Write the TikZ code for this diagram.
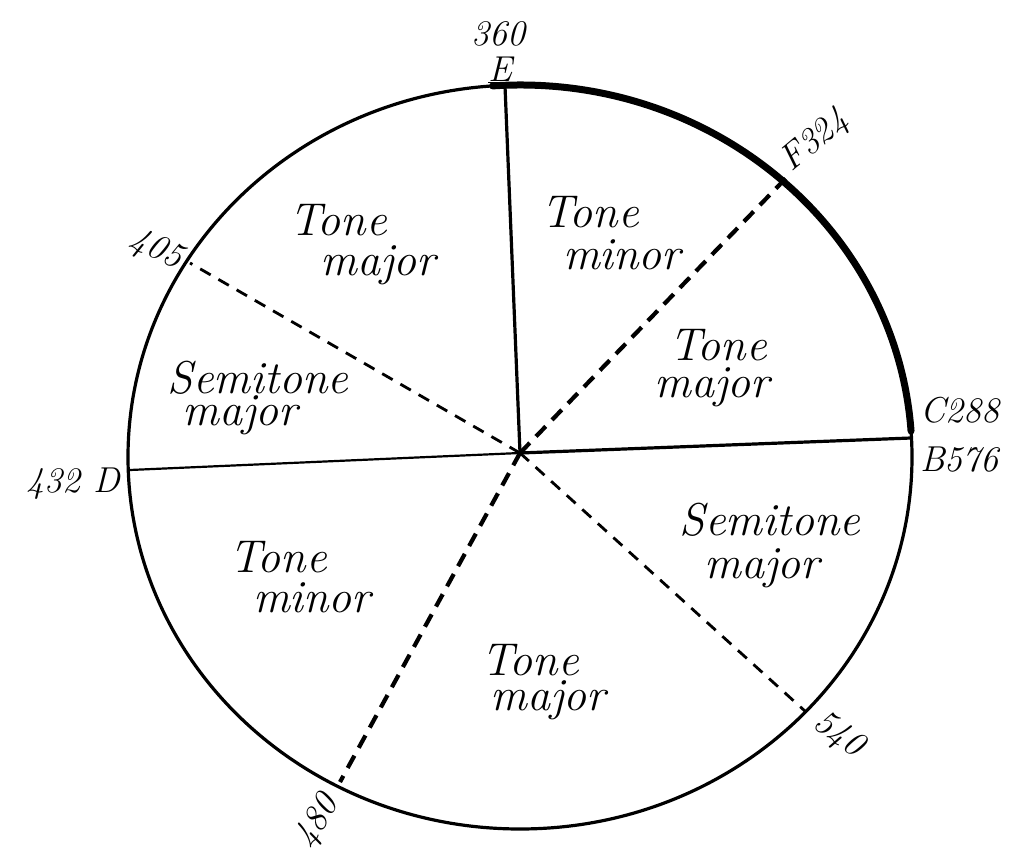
\documentclass[tikz,border=0pt]{standalone}
\usetikzlibrary{calc}
\begin{document}
\begin{tikzpicture}[x=1pt,y=-1pt,
  rim/.style={line width=3.2pt},
  heavyrim/.style={line width=7pt, line cap=round},
  solidr/.style={line width=3.2pt},
  thinr/.style={line width=2.2pt},
  dashthick/.style={line width=4.2pt, dash pattern=on 14pt off 9pt},
  dashthin/.style={line width=2.8pt, dash pattern=on 12pt off 9pt},
  lab/.style={font=\fontsize{46}{46}\selectfont\itshape, inner sep=0pt},
  num/.style={font=\fontsize{36}{36}\selectfont\itshape, inner sep=0pt}]
\useasboundingbox (0,0) rectangle (1010,861);
\coordinate (C) at (520,457);
\coordinate (O) at (520,453);
% circle
\draw[rim] (C) ellipse [x radius=392, y radius=372];
\draw[heavyrim] ($(C)+(-94:392 and 372)$) arc[start angle=-94, end angle=-4, x radius=392, y radius=372];
% rim points
\coordinate (T) at (505,86);
\coordinate (F) at (788,176);
\coordinate (R) at (911,438);
\coordinate (P540) at (806,712);
\coordinate (P480) at (340,782);
\coordinate (L) at (130,470);
\coordinate (P405) at (190,263);
% radii
\draw[solidr] (O) -- (T);
\draw[dashthick] (O) -- (F);
\draw[solidr] (O) -- (R);
\draw[dashthin] (O) -- (P540);
\draw[dashthick] (O) -- (P480);
\draw[thinr] (O) -- (L);
\draw[dashthin] (O) -- (P405);
% sector labels
\node[lab] (a1) at (338,220) {Tone};
\node[lab] (a2) at (378,265) {major};
\node[lab] (b1) at (590,212) {Tone};
\node[lab] (b2) at (622,255) {minor};
\node[lab] (c1) at (718,345) {Tone};
\node[lab] (c2) at (712,387) {major};
\node[lab] (d1) at (770,520) {Semitone};
\node[lab] (d2) at (762,568) {major};
\node[lab] (e1) at (530,660) {Tone};
\node[lab] (e2) at (548,700) {major};
\node[lab] (f1) at (278,557) {Tone};
\node[lab] (f2) at (312,598) {minor};
\node[lab] (g1) at (258,378) {Semitone};
\node[lab] (g2) at (240,415) {major};
% rim labels
\node[num] (n360) at (498,34) {360};
\node[num] (nE) at (500,70) {\underline{E}};
\node[num, rotate=40, anchor=south west] (nF) at (796,178) {F324};
\node[num, anchor=west] (nC) at (920,410) {C288};
\node[num, anchor=west] (nB) at (920,460) {B576};
\node[num, anchor=east] (nD) at (120,484) {432 D};
\node[num, rotate=-25] (n405) at (156,250) {405};
\node[num, rotate=-35] (n540) at (838,735) {540};
\node[num, rotate=58] (n480) at (318,822) {480};
\end{tikzpicture}
\end{document}
